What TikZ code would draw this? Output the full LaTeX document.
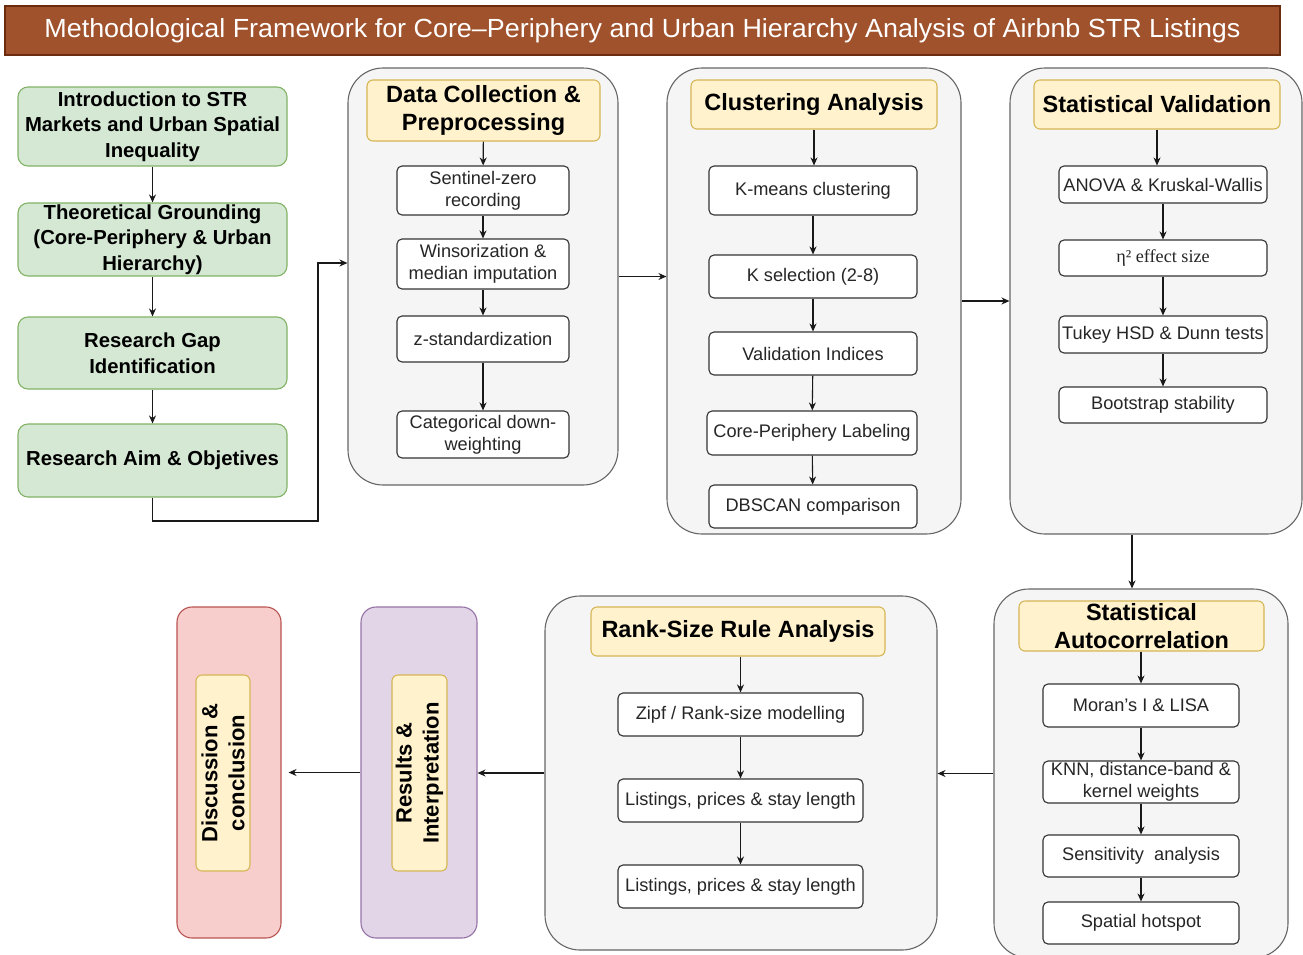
\documentclass[tikz,border=0pt]{standalone}
\usepackage{fontspec}
\setmainfont{Liberation Sans}
\newfontfamily\serifx{Liberation Serif}
\usetikzlibrary{arrows.meta,calc}
\definecolor{grnF}{HTML}{D5E8D4}\definecolor{grnD}{HTML}{82B366}
\definecolor{gryF}{HTML}{F5F5F5}\definecolor{gryD}{HTML}{666666}
\definecolor{yelF}{HTML}{FFF2CC}\definecolor{yelD}{HTML}{D6B656}
\definecolor{purF}{HTML}{E1D5E7}\definecolor{purD}{HTML}{9673A6}
\definecolor{redF}{HTML}{F8CECC}\definecolor{redD}{HTML}{B85450}
\definecolor{titF}{HTML}{A0522D}\definecolor{titD}{HTML}{6B2B0F}
\newcommand\rb[6]{\node[#2, minimum width={#5-#3}, minimum height={#6-#4}] (#1) at ({(#3+#5)/2},{(#4+#6)/2})}
\tikzset{
  wbox/.style={draw=black!80, fill=white, rounded corners=5pt, line width=1.1pt, font=\fontsize{18.2}{22}\selectfont, text=black!85, align=center, inner sep=1pt},
  gbox/.style={draw=grnD, fill=grnF, rounded corners=10pt, line width=1.1pt, font=\bfseries\fontsize{20.3}{25.5}\selectfont, align=center, inner sep=1pt},
  cont/.style={draw=gryD, fill=gryF, rounded corners=35pt, line width=1.1pt},
  hdr/.style={draw=yelD, fill=yelF, rounded corners=6pt, line width=1.1pt, font=\bfseries\fontsize{23.5}{28.5}\selectfont, align=center, inner sep=1pt},
  rhdr/.style={hdr, rotate=90, font=\bfseries\fontsize{22}{27}\selectfont},
  arr/.style={-{Stealth[length=8pt,width=7pt]}, line width=1.1pt, draw=black!90},
  titlebox/.style={draw=titD, fill=titF, line width=1.2pt, text=white, inner sep=0pt},
}
\begin{document}
\begin{tikzpicture}[x=1pt,y=-1pt]
\useasboundingbox (0,0) rectangle (1303,954);
\fill[white] (0,0) rectangle (1303,954);
% title
\rb{title}{titlebox}{5}{6}{1280}{55} {\resizebox{1196pt}{19pt}{\fontsize{24}{28}\selectfont Methodological Framework for Core–Periphery and Urban Hierarchy Analysis of Airbnb STR Listings}};
% left column
\rb{intro}{gbox}{18}{87}{287}{166} {Introduction to STR\\Markets and Urban Spatial\\Inequality};
\rb{theo}{gbox}{18}{203}{287}{276} {Theoretical Grounding\\(Core-Periphery \& Urban\\Hierarchy)};
\rb{gap}{gbox}{18}{317}{287}{389} {Research Gap\\Identification};
\rb{aim}{gbox}{18}{424}{287}{497} {Research Aim \& Objetives};
\draw[arr] (intro) -- (theo);
\draw[arr] (theo) -- (gap);
\draw[arr] (gap) -- (aim);
% data container
\rb{data}{cont}{348}{68}{618}{485} {};
\rb{dh}{hdr}{367}{80}{600}{141} {Data Collection \&\\Preprocessing};
\rb{d1}{wbox}{397}{166}{569}{215} {Sentinel-zero\\recording};
\rb{d2}{wbox}{397}{239}{569}{289} {Winsorization \&\\median imputation};
\rb{d3}{wbox}{397}{316}{569}{362} {z-standardization};
\rb{d4}{wbox}{397}{411}{569}{458} {Categorical down-\\weighting};
\draw[arr] (dh) -- (d1);
\draw[arr] (d1) -- (d2);
\draw[arr] (d2) -- (d3);
\draw[arr] (d3) -- (d4);
\coordinate (j1) at (318,521);
\coordinate (j2) at (318,263);
\draw[arr] (aim.south) |- (j1) -- (j2) -- (j2 -| data.west);
% clustering container
\rb{clu}{cont}{667}{68}{961}{534} {};
\rb{ch}{hdr}{691}{80}{937}{129} {Clustering Analysis};
\rb{c1}{wbox}{709}{166}{917}{215} {K-means clustering};
\rb{c2}{wbox}{709}{255}{917}{298} {K selection (2-8)};
\rb{c3}{wbox}{709}{332}{917}{375} {Validation Indices};
\rb{c4}{wbox}{707}{411}{917}{455} {Core-Periphery Labeling};
\rb{c5}{wbox}{709}{485}{917}{528} {DBSCAN comparison};
\draw[arr] (ch) -- (ch |- c1.north);
\draw[arr] (c1) -- (c2);
\draw[arr] (c2) -- (c3);
\draw[arr] (c3) -- (c4);
\draw[arr] (c4) -- (c5);
\draw[arr] (data.east) -- (data.east -| clu.west);
% statistical validation
\rb{sv}{cont}{1010}{68}{1302}{534} {};
\rb{svh}{hdr}{1034}{80}{1280}{129} {Statistical Validation};
\rb{s1}{wbox}{1059}{166}{1267}{203} {ANOVA \& Kruskal-Wallis};
\rb{s2}{wbox}{1059}{240}{1267}{276} {\serifx η² effect size};
\rb{s3}{wbox}{1059}{316}{1267}{353} {Tukey HSD \& Dunn tests};
\rb{s4}{wbox}{1059}{387}{1267}{423} {Bootstrap stability};
\draw[arr] (svh.south) -- (svh.south |- s1.north);
\draw[arr] (s1) -- (s2);
\draw[arr] (s2) -- (s3);
\draw[arr] (s3) -- (s4);
\draw[arr] (clu.east) -- (sv.west);
% autocorrelation
\rb{ac}{cont}{994}{589}{1288}{958} {};
\rb{ah}{hdr}{1019}{601}{1264}{651} {Statistical\\Autocorrelation};
\rb{a1}{wbox}{1043}{684}{1239}{727} {Moran's I \& LISA};
\rb{a2}{wbox}{1043}{761}{1239}{803} {KNN, distance-band \&\\kernel weights};
\rb{a3}{wbox}{1043}{835}{1239}{877} {Sensitivity\ \ analysis};
\rb{a4}{wbox}{1043}{902}{1239}{944} {Spatial hotspot};
\draw[arr] (ah.south -| a1.north) -- (a1.north);
\draw[arr] (a1) -- (a2);
\draw[arr] (a2) -- (a3);
\draw[arr] (a3) -- (a4);
\coordinate (j3) at (1132,0);
\draw[arr] (sv.south -| j3) -- (j3 |- ac.north);
% rank-size
\rb{rk}{cont}{545}{596}{937}{950} {};
\rb{rh}{hdr}{591}{607}{885}{656} {Rank-Size Rule Analysis};
\rb{r1}{wbox}{618}{693}{863}{736} {Zipf / Rank-size modelling};
\rb{r2}{wbox}{618}{779}{863}{822} {Listings, prices \& stay length};
\rb{r3}{wbox}{618}{865}{863}{908} {Listings, prices \& stay length};
\draw[arr] (rh.south -| r1.north) -- (r1.north);
\draw[arr] (r1) -- (r2);
\draw[arr] (r2) -- (r3);
\draw[arr] (ac.west) -- (ac.west -| rk.east);
% results and discussion
\rb{res}{draw=purD, fill=purF, rounded corners=15pt, line width=1.1pt}{361}{607}{477}{938} {};
\node[rhdr, minimum width=196pt, minimum height=55pt] (resh) at (419.5,773) {Results \&\\Interpretation};
\rb{dis}{draw=redD, fill=redF, rounded corners=15pt, line width=1.1pt}{177}{607}{281}{938} {};
\node[rhdr, minimum width=196pt, minimum height=54pt] (dish) at (223,773) {Discussion \&\\conclusion};
\draw[arr] (rk.west) -- (rk.west -| res.east);
\draw[arr] (res.west) -- ([xshift=7pt]dis.east);
\end{tikzpicture}
\end{document}
